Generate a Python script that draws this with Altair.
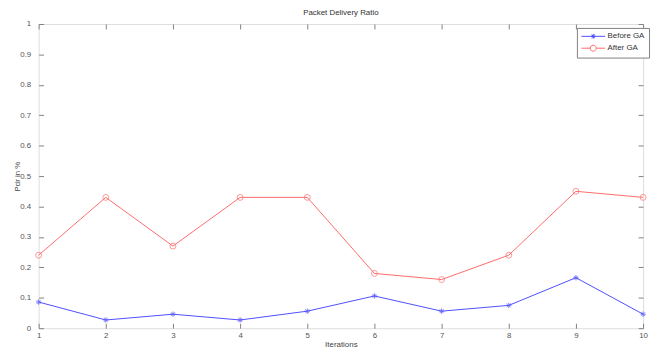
import altair as alt
import pandas as pd

iterations = [1, 2, 3, 4, 5, 6, 7, 8, 9, 10]
before_ga = [0.086, 0.027, 0.046, 0.027, 0.056, 0.106, 0.056, 0.075, 0.166, 0.046]
after_ga = [0.24, 0.43, 0.27, 0.43, 0.43, 0.18, 0.16, 0.24, 0.45, 0.43]
series_names = ["Before GA", "After GA"]
series_colors = ["#4d4dff", "#ff6b6b"]
y_ticks = [0, 0.1, 0.2, 0.3, 0.4, 0.5, 0.6, 0.7, 0.8, 0.9, 1]

rows = []
for i, b, a in zip(iterations, before_ga, after_ga):
    rows.append({"iter": i, "val": b, "series": series_names[0]})
    rows.append({"iter": i, "val": a, "series": series_names[1]})
df = pd.DataFrame(rows)

FONT = "Liberation Sans"
xscale = alt.Scale(domain=[1, 10], nice=False, zero=False)
yscale = alt.Scale(domain=[0, 1], nice=False)
cscale = alt.Scale(domain=series_names, range=series_colors)

star = "M-1,0H1M0,-1V1M-0.7,-0.7L0.7,0.7M-0.7,0.7L0.7,-0.7"
leg_before = "M-1,0H5M2,-0.6V0.6M1.4,0H2.6M1.58,-0.42L2.42,0.42M1.58,0.42L2.42,-0.42"
leg_after = "M-1,0H1.25M2.75,0H5M2.75,0A0.75,0.75 0 1,1 1.25,0A0.75,0.75 0 1,1 2.75,0"

common_axis = dict(grid=False, domain=False, tickColor="#808080", tickSize=5,
                   offset=-5, labelFont=FONT, labelFontSize=8, labelColor="#555555",
                   titleFont=FONT, titleFontSize=8, titleFontWeight="normal",
                   titleColor="#444444")

x_bottom = alt.Axis(orient="bottom", values=iterations, format="d", labelFlush=False,
                    labelPadding=3, title="Iterations", titlePadding=2, **common_axis)
y_left = alt.Axis(orient="left", values=y_ticks, format=".1~f", labelPadding=8,
                  title="Pdr in %", titlePadding=-2, **common_axis)
x_top = alt.Axis(orient="top", values=iterations, labels=False, title=None, **common_axis)
y_right = alt.Axis(orient="right", values=y_ticks, labels=False, title=None, **common_axis)

base = alt.Chart(df)

def series_line(name, color):
    return base.transform_filter(alt.datum.series == name).mark_line(
        strokeWidth=1, color=color
    ).encode(
        x=alt.X("iter:Q", scale=xscale, axis=None),
        y=alt.Y("val:Q", scale=yscale, axis=None),
    )

line_before = series_line(series_names[0], series_colors[0])
line_after = series_line(series_names[1], series_colors[1])

main_axes = base.mark_point(opacity=0).encode(
    x=alt.X("iter:Q", scale=xscale, axis=x_bottom),
    y=alt.Y("val:Q", scale=yscale, axis=y_left),
)

frame_axes = base.mark_point(opacity=0).encode(
    x=alt.X("iter:Q", scale=xscale, axis=x_top),
    y=alt.Y("val:Q", scale=yscale, axis=y_right),
)

pts_after = base.transform_filter(alt.datum.series == "After GA").mark_point(
    shape="circle", filled=False, size=36, strokeWidth=1, color=series_colors[1]
).encode(
    x=alt.X("iter:Q", scale=xscale, axis=None),
    y=alt.Y("val:Q", scale=yscale, axis=None),
)

pts_before = base.transform_filter(alt.datum.series == "Before GA").mark_point(
    shape=star, filled=False, size=30, strokeWidth=1, color=series_colors[0]
).encode(
    x=alt.X("iter:Q", scale=xscale, axis=None),
    y=alt.Y("val:Q", scale=yscale, axis=None),
)

leg = dict(title=None, orient="none", legendX=545, legendY=4, padding=4,
           strokeColor="#808080", fillColor="white", labelFont=FONT, labelFontSize=8,
           labelColor="#333333", symbolSize=64, labelOffset=18, rowPadding=2,
           symbolStrokeWidth=1, symbolOpacity=1, symbolFillColor="transparent")

legend_layer = base.mark_point(opacity=0, filled=False).encode(
    x=alt.X("iter:Q", scale=xscale, axis=None),
    y=alt.Y("val:Q", scale=yscale, axis=None),
    color=alt.Color("series:N", scale=cscale, legend=alt.Legend(**leg)),
    shape=alt.Shape("series:N", scale=alt.Scale(domain=series_names, range=[leg_before, leg_after]),
                    legend=alt.Legend(**leg)),
)

chart = alt.layer(main_axes, frame_axes, line_before, line_after, pts_after, pts_before,
                  legend_layer).resolve_axis(
    x="independent", y="independent"
).properties(
    width=612, height=308,
    title=alt.TitleParams("Packet Delivery Ratio", font=FONT, fontSize=8, fontWeight="normal",
                          color="#333333", offset=3),
    autosize=alt.AutoSizeParams(type="none"),
    padding={"left": 31, "top": 14, "right": 8, "bottom": 30},
).configure_view(stroke="#808080", strokeWidth=1).configure(background="white")

chart.save("out.html", embed_options={"renderer": "svg", "actions": False})
